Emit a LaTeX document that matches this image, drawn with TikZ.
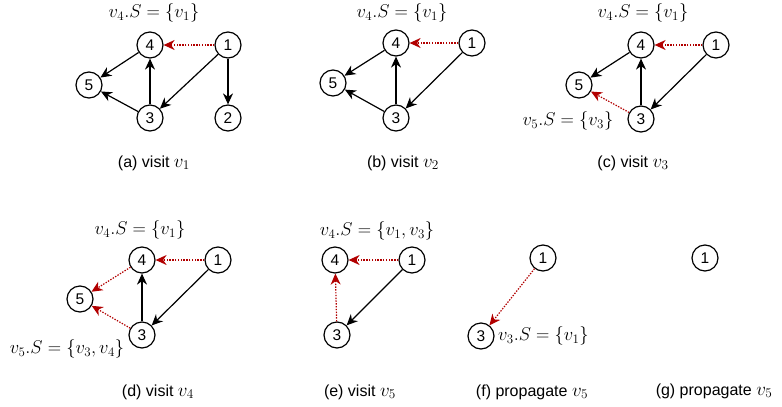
\RequirePackage{fix-cm}
\documentclass[tikz,border=0pt]{standalone}
\usepackage{fontspec}
\setmainfont{Liberation Sans}
\usetikzlibrary{arrows.meta}
\definecolor{propred}{HTML}{B20000}
% vertex name in a caption, math set a little larger than the caption text
\newcommand{\capv}[1]{{\fontsize{19}{22}\selectfont$v_{#1}$}}

\begin{document}
\begin{tikzpicture}[x=1pt,y=-1pt,
  vtx/.style={circle,draw,line width=1.2pt,minimum size=26pt,inner sep=0pt,
    font=\fontsize{15.5}{18}\selectfont},
  edge/.style={line width=1.2pt,-{Stealth[length=11pt,width=10pt,inset=3.5pt]}},
  prop/.style={edge,draw=propred,dash pattern=on 1.4pt off 1.4pt},
  setlbl/.style={inner sep=0pt,font=\fontsize{18.5}{22}\selectfont},
  subcap/.style={inner sep=0pt,font=\fontsize{16}{19}\selectfont}]
\useasboundingbox (0,0) rectangle (782,407);

% (a) visit v1
\node[vtx] (a4) at (150,45) {4};
\node[vtx] (a1) at (228,45) {1};
\node[vtx] (a5) at (89,85) {5};
\node[vtx] (a3) at (150,118) {3};
\node[vtx] (a2) at (228,118) {2};
\node[setlbl] (aS4) at (154,13) {$v_4.S=\{v_1\}$};
\node[subcap] (acap) at (154,163) {(a) visit \capv{1}};
\draw[prop] (a1) -- (a4);
\draw[edge] (a4) -- (a5);
\draw[edge] (a3) -- (a4);
\draw[edge] (a3) -- (a5);
\draw[edge] (a1) -- (a3);
\draw[edge] (a1) -- (a2);

% (b) visit v2
\node[vtx] (b4) at (396,43) {4};
\node[vtx] (b1) at (472,43) {1};
\node[vtx] (b5) at (333,83) {5};
\node[vtx] (b3) at (396,118) {3};
\node[setlbl] (bS4) at (402,13) {$v_4.S=\{v_1\}$};
\node[subcap] (bcap) at (403,163) {(b) visit \capv{2}};
\draw[prop] (b1) -- (b4);
\draw[edge] (b4) -- (b5);
\draw[edge] (b3) -- (b4);
\draw[edge] (b3) -- (b5);
\draw[edge] (b1) -- (b3);

% (c) visit v3
\node[vtx] (c4) at (641,45) {4};
\node[vtx] (c1) at (716,45) {1};
\node[vtx] (c5) at (579,85) {5};
\node[vtx] (c3) at (641,119) {3};
\node[setlbl] (cS4) at (643,13) {$v_4.S=\{v_1\}$};
\node[setlbl] (cS5) at (568,121) {$v_5.S=\{v_3\}$};
\node[subcap] (ccap) at (633,163) {(c) visit \capv{3}};
\draw[prop] (c1) -- (c4);
\draw[edge] (c4) -- (c5);
\draw[edge] (c3) -- (c4);
\draw[prop] (c3) -- (c5);
\draw[edge] (c1) -- (c3);

% (d) visit v4
\node[vtx] (d4) at (142,260) {4};
\node[vtx] (d1) at (218,260) {1};
\node[vtx] (d5) at (80,299) {5};
\node[vtx] (d3) at (142,335) {3};
\node[setlbl] (dS4) at (140,230) {$v_4.S=\{v_1\}$};
\node[setlbl] (dS5) at (67,349) {$v_5.S=\{v_3,v_4\}$};
\node[subcap] (dcap) at (158,392) {(d) visit \capv{4}};
\draw[prop] (d1) -- (d4);
\draw[prop] (d4) -- (d5);
\draw[edge] (d3) -- (d4);
\draw[prop] (d3) -- (d5);
\draw[edge] (d1) -- (d3);

% (e) visit v5
\node[vtx] (e4) at (335,260) {4};
\node[vtx] (e1) at (412,260) {1};
\node[vtx] (e3) at (337,335) {3};
\node[setlbl] (eS4) at (377,231) {$v_4.S=\{v_1,v_3\}$};
\node[subcap] (ecap) at (360,392) {(e) visit \capv{5}};
\draw[prop] (e1) -- (e4);
\draw[prop] (e3) -- (e4);
\draw[edge] (e1) -- (e3);

% (f) propagate v5
\node[vtx] (f1) at (543,258) {1};
\node[vtx] (f3) at (481,336) {3};
\node[setlbl,anchor=west] (fS3) at (498,336) {$v_3.S=\{v_1\}$};
\node[subcap] (fcap) at (532,392) {(f) propagate \capv{5}};
\draw[prop] (f1) -- (f3);

% (g) propagate v5
\node[vtx] (g1) at (705,258) {1};
\node[subcap] (gcap) at (714,391) {(g) propagate \capv{5}};
\end{tikzpicture}
\end{document}
